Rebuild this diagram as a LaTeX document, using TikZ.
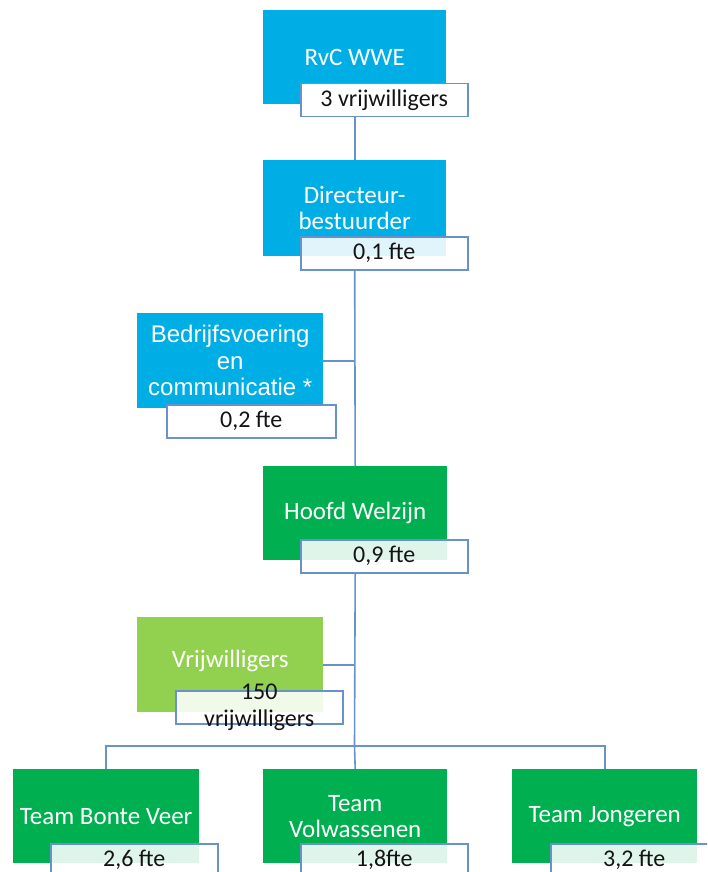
\documentclass[tikz,border=0pt]{standalone}
\usepackage{fontspec}
\setmainfont{Carlito}
\newfontfamily\arialf{Liberation Sans}
\definecolor{boxblue}{RGB}{0,174,230}
\definecolor{boxgreen}{RGB}{0,176,80}
\definecolor{boxlgreen}{RGB}{146,208,80}
\definecolor{linec}{RGB}{105,146,205}
\begin{document}
\begin{tikzpicture}[x=1pt,y=-1pt,
  unit/.style={rectangle, inner sep=0pt, anchor=north west, text=white, align=center,
    font=\fontsize{25}{26}\selectfont},
  bluebox/.style={unit, fill=boxblue, minimum width=183pt, minimum height=94pt},
  greenbox/.style={unit, fill=boxgreen, minimum width=184pt, minimum height=94pt},
  lgreenbox/.style={unit, fill=boxlgreen, minimum width=186pt, minimum height=95pt},
  fte/.style={rectangle, inner sep=0pt, anchor=north west, draw=linec, line width=1.5pt,
    fill=white, fill opacity=0.88, text opacity=1, text=black!92,
    minimum width=167pt, minimum height=33pt, font=\fontsize{24}{26}\selectfont},
  ftesolid/.style={fte, fill opacity=1},
  conn/.style={draw=linec, line width=1.6pt}]
\clip (0,0) rectangle (707,872);
\fill[white] (0,0) rectangle (707,872);

\coordinate (split) at (354.5,746);

% boxes
\node[bluebox] (rvc) at (263,10) {RvC WWE};
\node[ftesolid] (rvcl) at (300,83) {3 vrijwilligers};

\node[bluebox, minimum height=96pt] (dir) at (263,160) {Directeur-\\bestuurder};
\node[fte] (dirl) at (300,236) {0,1 fte};

\node[unit, fill=boxblue, minimum width=186pt, minimum height=95pt,
  font=\arialf\fontsize{24}{26.5}\selectfont] (bfv) at (137,313)
  {Bedrijfsvoering\\en\\communicatie *};
\node[ftesolid, minimum width=169pt] (bfvl) at (166,404) {0,2 fte};

\node[greenbox] (hw) at (263,466) {Hoofd Welzijn};
\node[fte] (hwl) at (300,539) {0,9 fte};

\node[lgreenbox] (vw) at (137,617) {Vrijwilligers\\[-14pt]\phantom{x}};
\node[fte] (vwl) at (175,690) {};
\node[align=center, text=black!92, font=\fontsize{24}{27}\selectfont, inner sep=0pt]
  (vwt) at (vwl.center) {150\\vrijwilligers};

\node[greenbox, minimum width=186pt] (tbv) at (13,769) {Team Bonte Veer};
\node[fte] (tbvl) at (50,843) {2,6 fte};

\node[greenbox] (tvw) at (263,769) {Team\\Volwassenen};
\node[fte] (tvwl) at (300,843) {1,8fte};

\node[greenbox, minimum width=185pt] (tj) at (512,769) {Team Jongeren};
\node[fte] (tjl) at (550,843) {3,2 fte};

% connector lines
\draw[conn] (rvcl.south -| rvc.south) -- (dir.north);
\draw[conn] (dirl.south -| dir.south) -- (hw.north);
\draw[conn] (bfv.east) -- (bfv.east -| hw.north);
\draw[conn] (hwl.south -| hw.south) -- (split);
\draw[conn] (vw.east) -- (vw.east -| hw.north);
\draw[conn] (tbv.north) -- (tbv.north |- split) -| (tj.north);
\draw[conn] (split) -- (tvw.north);
\end{tikzpicture}
\end{document}
